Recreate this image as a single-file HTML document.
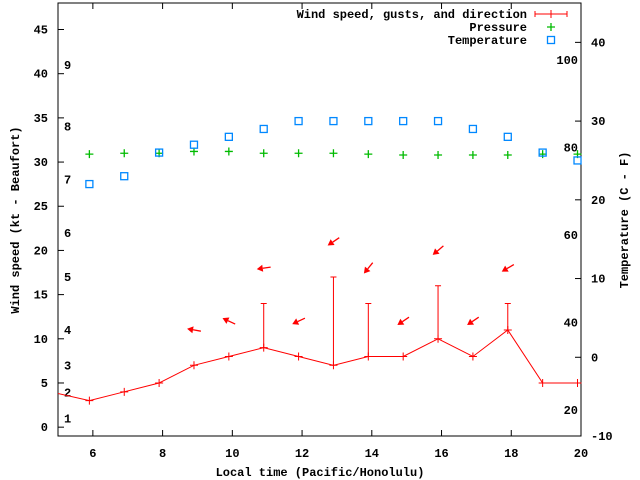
<!DOCTYPE html>
<html><head><meta charset="utf-8"><style>
body{margin:0;background:#fff}
svg{display:block;font-family:"Liberation Mono",monospace;font-weight:bold;font-size:12px}
</style></head><body>
<svg id="c" width="640" height="480" xmlns="http://www.w3.org/2000/svg"></svg>
<script>
const times=[5.9,6.9,7.9,8.9,9.9,10.9,11.9,12.9,13.9,14.9,15.9,16.9,17.9,18.9,19.9];
const windSpeed=[3,4,5,7,8,9,8,7,8,8,10,8,11,5,5];
const windPrevTime=4.9, windPrevSpeed=3.9;
const gustTimes=[10.9,12.9,13.9,15.9,17.9];
const gustBase=[9,7,8,10,11];
const gustSpeed=[14,17,14,16,14];
const arrowTimes=[8.9,9.9,10.9,11.9,12.9,13.9,14.9,15.9,16.9,17.9];
const arrowLevel=[11,12,18,12,21,18,12,20,12,18];
const arrowAngle=[170,155,188,205,214,231,214,220,214,210];
const pressure=[30.9,31,31,31.2,31.2,31,31,31,30.9,30.8,30.8,30.8,30.8,30.9,30.9];
const tempC=[22,23,26,27,28,29,30,30,30,30,30,29,28,26,25];
const xTicks=[6,8,10,12,14,16,18,20];
const yTicks=[0,5,10,15,20,25,30,35,40,45];
const tTicks=[-10,0,10,20,30,40];
const fTicks=[20,40,60,80,100];
const beaufort=[[1,1],[2,3.9],[3,7],[4,11],[5,17],[6,22],[7,28],[8,34],[9,41]];

const L=58,R=581,T=3,B=436;
const X=t=>L+(t-5)/15*(R-L);
const Y=v=>B-(v+1)/49*(B-T);
const YT=c=>B-(c+10)/55*(B-T);
const svg=document.getElementById('c');
const NS='http://www.w3.org/2000/svg';
function mk(tag,a,txt){const e=document.createElementNS(NS,tag);for(const k in a)e.setAttribute(k,a[k]);if(txt!==undefined)e.textContent=txt;svg.appendChild(e);return e;}

let e;
e=mk('rect',{x:L,y:T,width:R-L,height:B-T,fill:'none',stroke:'#000','stroke-width':1});

xTicks.forEach(t=>{
  e=mk('path',{d:`M${X(t)} ${B}v-6M${X(t)} ${T}v6`,stroke:'#000'});
  
  e=mk('text',{x:X(t),y:B+21,'text-anchor':'middle'},t);
  
});
yTicks.forEach(v=>{
  e=mk('path',{d:`M${L} ${Y(v)}h6`,stroke:'#000'});
  
  e=mk('text',{x:L-10,y:Y(v)+4,'text-anchor':'end'},v);
  
});
tTicks.forEach(c=>{
  e=mk('path',{d:`M${R} ${YT(c)}h-6`,stroke:'#000'});
  
  e=mk('text',{x:R+10,y:YT(c)+4},c);
  
});
fTicks.forEach(f=>{
  e=mk('text',{x:R-3,y:YT((f-32)*5/9)+4,'text-anchor':'end'},f);
  
});
beaufort.forEach(b=>{
  e=mk('text',{x:64,y:Y(b[1])+4},b[0]);
  
});
e=mk('text',{x:320,y:476,'text-anchor':'middle'},'Local time (Pacific/Honolulu)');

e=mk('text',{x:19,y:220,'text-anchor':'middle',transform:'rotate(-90 19 220)'},'Wind speed (kt - Beaufort)');

e=mk('text',{x:628,y:220,'text-anchor':'middle',transform:'rotate(-90 628 220)'},'Temperature (C - F)');


// clip
const defs=mk('defs',{});const cp=document.createElementNS(NS,'clipPath');cp.setAttribute('id','cl');
const cr=document.createElementNS(NS,'rect');cr.setAttribute('x',L);cr.setAttribute('y',T);cr.setAttribute('width',R-L);cr.setAttribute('height',B-T);
cp.appendChild(cr);defs.appendChild(cp);

let d=`M${X(windPrevTime)} ${Y(windPrevSpeed)}`;
times.forEach((t,i)=>{d+=`L${X(t)} ${Y(windSpeed[i])}`;});
e=mk('path',{d:d,fill:'none',stroke:'#f00','clip-path':'url(#cl)'});

times.forEach((t,i)=>{
  e=mk('path',{d:`M${X(t)-4} ${Y(windSpeed[i])}h8M${X(t)} ${Y(windSpeed[i])-4}v8`,stroke:'#f00'});
  
});
gustTimes.forEach((t,i)=>{
  e=mk('path',{d:`M${X(t)} ${Y(gustBase[i])}V${Y(gustSpeed[i])}M${X(t)-3} ${Y(gustSpeed[i])}h6`,stroke:'#f00'});
  
});
arrowTimes.forEach((t,i)=>{
  const a=arrowAngle[i]*Math.PI/180,cx=X(t),cy=Y(arrowLevel[i]);
  const ux=Math.cos(a),uy=-Math.sin(a),len=14;
  const hx=cx+ux*len/2,hy=cy+uy*len/2,tx=cx-ux*len/2,ty=cy-uy*len/2;
  const bx=hx-ux*6,by=hy-uy*6,px=-uy*3.5,py=ux*3.5;
  e=mk('path',{d:`M${tx} ${ty}L${bx} ${by}`,stroke:'#f00','stroke-width':1.3});
  
  e=mk('path',{d:`M${hx} ${hy}L${bx+px} ${by+py}L${bx-px} ${by-py}Z`,fill:'#f00'});
  
});
times.forEach((t,i)=>{
  const x=X(t),y=Y(pressure[i]);
  e=mk('path',{d:`M${x-4} ${y}h8M${x} ${y-4}v8`,stroke:'#0b0','stroke-width':1.3});
  
});
times.forEach((t,i)=>{
  const x=X(t),y=YT(tempC[i]);
  e=mk('rect',{x:x-3.5,y:y-3.5,width:7,height:7,fill:'none',stroke:'#08f','stroke-width':1.3});
  
});
// legend
const leg=[['Wind speed, gusts, and direction',14],['Pressure',27],['Temperature',40]];
leg.forEach(l=>{
  e=mk('text',{x:527,y:l[1]+4,'text-anchor':'end'},l[0]);
  
});
e=mk('path',{d:'M535 14h32M535 11v6M567 11v6M551 10v8',stroke:'#f00'});

e=mk('path',{d:'M547 27h8M551 23v8',stroke:'#0b0','stroke-width':1.3});

e=mk('rect',{x:547.5,y:36.5,width:7,height:7,fill:'none',stroke:'#08f','stroke-width':1.3});

</script>
</body></html>
